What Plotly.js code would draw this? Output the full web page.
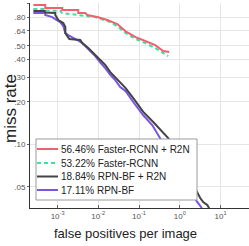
<!DOCTYPE html>
<html>
<head>
<meta charset="utf-8">
<script src="https://cdn.plot.ly/plotly-3.0.1.min.js"></script>
<style>html,body{margin:0;padding:0;background:#fff;}#chart{width:249px;height:246px;}</style>
</head>
<body>
<div id="chart"></div>
<script>
// ---- data ----
const seriesNames = ['56.46% Faster-RCNN + R2N', '53.22% Faster-RCNN', '18.84% RPN-BF + R2N', '17.11% RPN-BF'];

const fasterR2nX = [2.54e-4, 4.99e-4, 4.99e-4, 1.30e-3, 1.30e-3, 3.22e-3, 3.22e-3, 4.78e-3, 5.36e-3, 9.42e-3, 1.66e-2, 2.92e-2, 4.69e-2, 8.24e-2, 0.142, 0.249, 0.392, 0.550];
const fasterR2nY = [0.976, 0.976, 0.929, 0.929, 0.899, 0.899, 0.856, 0.856, 0.829, 0.802, 0.764, 0.715, 0.635, 0.578, 0.542, 0.507, 0.460, 0.453];

const fasterX = [2.54e-4, 4.99e-4, 4.99e-4, 1.16e-3, 1.30e-3, 3.61e-3, 8.41e-3, 1.97e-2, 2.92e-2, 4.69e-2, 8.24e-2, 0.142, 0.249, 0.392, 0.520];
const fasterY = [0.914, 0.914, 0.889, 0.889, 0.856, 0.829, 0.802, 0.739, 0.690, 0.617, 0.560, 0.524, 0.483, 0.445, 0.424];

const rpnR2nX = [2.54e-4, 4.99e-4, 4.99e-4, 8.79e-4, 8.79e-4, 1.04e-3, 1.38e-3, 1.55e-3, 1.55e-3, 1.94e-3, 3.61e-3, 4.04e-3, 5.66e-3, 8.41e-3, 1.12e-2, 1.48e-2, 1.97e-2, 2.61e-2, 3.45e-2, 4.69e-2, 7.21e-2, 0.127, 0.223, 0.392, 0.520, 1.22, 2.68, 3.18, 3.76, 4.72, 5.28];
const rpnR2nY = [0.885, 0.885, 0.863, 0.856, 0.829, 0.764, 0.727, 0.681, 0.617, 0.560, 0.551, 0.524, 0.483, 0.431, 0.397, 0.366, 0.326, 0.300, 0.274, 0.251, 0.213, 0.170, 0.144, 0.122, 0.111, 0.070, 0.0451, 0.0416, 0.0389, 0.0371, 0.0353];

const rpnX = [2.54e-4, 4.99e-4, 4.99e-4, 7.41e-4, 8.79e-4, 1.16e-3, 1.38e-3, 1.55e-3, 1.83e-3, 2.30e-3, 3.04e-3, 4.04e-3, 5.66e-3, 8.41e-3, 1.12e-2, 1.48e-2, 1.97e-2, 2.61e-2, 3.45e-2, 4.69e-2, 7.21e-2, 0.127, 0.211, 0.331, 0.97, 2.60, 3.00, 3.50];
const rpnY = [0.856, 0.856, 0.829, 0.802, 0.776, 0.739, 0.692, 0.617, 0.597, 0.578, 0.551, 0.524, 0.475, 0.424, 0.380, 0.348, 0.312, 0.286, 0.255, 0.239, 0.200, 0.161, 0.137, 0.111, 0.0656, 0.0395, 0.0371, 0.0353];

const xTickVals = [0.001, 0.01, 0.1, 1, 10];
const xTickText = ['10<sup>-3</sup>', '10<sup>-2</sup>', '10<sup>-1</sup>', '10<sup>0</sup>', '10<sup>1</sup>'];
const yTickVals = [0.05, 0.1, 0.2, 0.3, 0.4, 0.5, 0.64, 0.8, 1];
const yTickText = ['.05', '.10', '.20', '.30', '.40', '.50', '.64', '.80', '1'];

const xTitle = 'false positives per image';
const yTitle = 'miss rate';

// ---- styling ----
const colors = ['#f0606e', '#3ee0a0', '#444444', '#7a55e0'];
const dashes = ['solid', '4px,3px', 'solid', 'solid'];
const SANS = '"Liberation Sans", Arial, sans-serif';

const seriesX = [fasterR2nX, fasterX, rpnR2nX, rpnX];
const seriesY = [fasterR2nY, fasterY, rpnR2nY, rpnY];

// draw order: bottom first so the top curves stay visible
const drawOrder = [3, 2, 1, 0];
const traces = drawOrder.map(i => ({
  type: 'scatter', mode: 'lines',
  x: seriesX[i], y: seriesY[i], name: seriesNames[i],
  line: {color: colors[i], width: 2, dash: dashes[i]},
  showlegend: false, hoverinfo: 'skip'
}));

// plot area in pixels: left 30, right 249, top 3, bottom 208
const L = 30, R = 249, T = 3, B = 208;
const px = v => (v - L) / (R - L);
const py = v => (B - v) / (B - T);

// manual legend (box, sample lines, labels)
const legBox = {x0: 36, x1: 197, y0: 139, y1: 200};
const legRowsY = [149, 163, 176.5, 190];
const shapes = [{
  type: 'rect', xref: 'paper', yref: 'paper', layer: 'above',
  x0: px(legBox.x0), x1: px(legBox.x1), y0: py(legBox.y1), y1: py(legBox.y0),
  fillcolor: '#ffffff', line: {color: '#9a9a9a', width: 1}
}];
const annotations = [];
seriesNames.forEach((n, i) => {
  shapes.push({
    type: 'line', xref: 'paper', yref: 'paper', layer: 'above',
    x0: px(37), x1: px(58), y0: py(legRowsY[i]), y1: py(legRowsY[i]),
    line: {color: colors[i], width: 2, dash: dashes[i]}
  });
  annotations.push({
    xref: 'paper', yref: 'paper', x: px(59), y: py(legRowsY[i]),
    xanchor: 'left', yanchor: 'middle', showarrow: false, text: n,
    font: {family: SANS, size: 10, color: '#222'}
  });
});
annotations.push({
  xref: 'paper', yref: 'paper', x: px(125), y: py(233), xanchor: 'center', yanchor: 'middle',
  showarrow: false, text: xTitle, font: {family: SANS, size: 13, color: '#222'}
});
annotations.push({
  xref: 'paper', yref: 'paper', x: px(10), y: py(109), xanchor: 'center', yanchor: 'middle',
  showarrow: false, text: yTitle, textangle: -90, font: {family: SANS, size: 17, color: '#222'}
});

const layout = {
  width: 249, height: 246,
  margin: {l: L, r: 249 - R, t: T, b: 246 - B, pad: 0},
  paper_bgcolor: '#fff', plot_bgcolor: '#fff',
  showlegend: false,
  xaxis: {
    type: 'log', range: [-3.677, 1.70], tickvals: xTickVals, ticktext: xTickText,
    showgrid: true, gridcolor: '#e6e6e6', gridwidth: 1, zeroline: false,
    showline: true, linecolor: '#333', linewidth: 1,
    ticks: 'inside', ticklen: 3, tickcolor: '#666',
    tickfont: {family: SANS, size: 8, color: '#555'}
  },
  yaxis: {
    type: 'log', range: [-1.452, 0.004], tickvals: yTickVals, ticktext: yTickText,
    showgrid: true, gridcolor: '#e6e6e6', gridwidth: 1, zeroline: false,
    showline: true, linecolor: '#333', linewidth: 1,
    ticks: 'outside', ticklen: 2, tickcolor: '#666',
    tickfont: {family: SANS, size: 8, color: '#555'}
  },
  shapes: shapes,
  annotations: annotations
};

Plotly.newPlot('chart', traces, layout, {displayModeBar: false, staticPlot: true});
</script>
</body>
</html>
